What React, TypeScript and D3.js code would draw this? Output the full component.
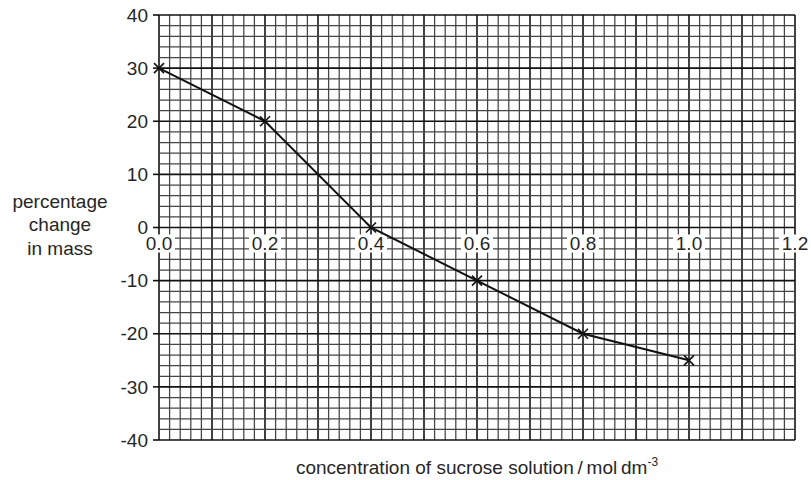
import React from "react";
import * as d3 from "d3";

const concentrations = [0.0, 0.2, 0.4, 0.6, 0.8, 1.0];
const percentChange = [30, 20, 0, -10, -20, -25];
const xTickValues = [0.0, 0.2, 0.4, 0.6, 0.8, 1.0, 1.2];
const yTickValues = [40, 30, 20, 10, 0, -10, -20, -30, -40];
const yTitleLines = ["percentage", "change", "in mass"];

const W = 811;
const H = 480;
const left = 159;
const right = 795;
const top = 15;
const bottom = 440;
const FONT = "'Liberation Sans', Arial, Helvetica, sans-serif";
const TXT = "#262626";
const FS = 19;

export default function App() {
  const x = d3.scaleLinear().domain([0, 1.2]).range([left, right]);
  const y = d3.scaleLinear().domain([-40, 40]).range([bottom, top]);

  const xMinor = d3.range(0, 61).map((i) => i * 0.02);
  const yMinor = d3.range(0, 41).map((i) => -40 + i * 2);

  const line = d3
    .line<number>()
    .x((_, i) => x(concentrations[i]))
    .y((d) => y(d));

  const pts = percentChange.map((v, i) => [x(concentrations[i]), y(v)]);

  return (
    <svg
      width={W}
      height={H}
      style={{ position: "absolute", left: 0, top: 0, background: "#fff" }}
      fontFamily={FONT}
    >
      <rect x={0} y={0} width={W} height={H} fill="#fff" />
      {/* grid */}
      <g>
        {xMinor.map((v, i) => (
          <line
            key={"gx" + i}
            x1={x(v)}
            x2={x(v)}
            y1={top}
            y2={bottom}
            stroke={i % 5 === 0 ? "#111" : "#444"}
            strokeWidth={i % 5 === 0 ? 1.6 : 1.25}
          />
        ))}
        {yMinor.map((v, i) => (
          <line
            key={"gy" + i}
            x1={left}
            x2={right}
            y1={y(v)}
            y2={y(v)}
            stroke={i % 5 === 0 ? "#111" : "#444"}
            strokeWidth={i % 5 === 0 ? 1.6 : 1.25}
          />
        ))}
      </g>
      {/* y ticks */}
      {yTickValues.map((v) => (
        <g key={"yt" + v}>
          <line x1={left - 6} x2={left} y1={y(v)} y2={y(v)} stroke="#111" strokeWidth={1.6} />
          <text
            x={left - 11}
            y={y(v)}
            dy="0.35em"
            textAnchor="end"
            fontSize={FS}
            fill={TXT}
          >
            {v}
          </text>
        </g>
      ))}
      {/* x tick labels with white background */}
      {xTickValues.map((v) => (
        <g key={"xt" + v}>
          <rect x={x(v) - 16} y={y(0) + 7} width={32} height={18} fill="#fff" />
          <text
            x={x(v)}
            y={y(0) + 16}
            dy="0.35em"
            textAnchor="middle"
            fontSize={FS}
            fill={TXT}
          >
            {v.toFixed(1)}
          </text>
        </g>
      ))}
      {/* data line */}
      <path d={line(percentChange) || ""} fill="none" stroke="#111" strokeWidth={2} />
      {pts.map(([px, py], i) => (
        <g key={"m" + i} stroke="#111" strokeWidth={1.6}>
          <line x1={px - 5} x2={px + 5} y1={py - 5} y2={py + 5} />
          <line x1={px - 5} x2={px + 5} y1={py + 5} y2={py - 5} />
        </g>
      ))}
      {/* y title */}
      {yTitleLines.map((t, i) => (
        <text
          key={"ytl" + i}
          x={60}
          y={201 + i * 23.5}
          dy="0.35em"
          textAnchor="middle"
          fontSize={FS}
          fill={TXT}
        >
          {t}
        </text>
      ))}
      {/* x title */}
      <text x={477} y={467} dy="0.35em" textAnchor="middle" fontSize={FS} fill={TXT}>
        {"concentration of sucrose solution\u2009/\u2009mol\u2009dm"}
        <tspan fontSize={12} dy="-8">-3</tspan>
      </text>
    </svg>
  );
}
